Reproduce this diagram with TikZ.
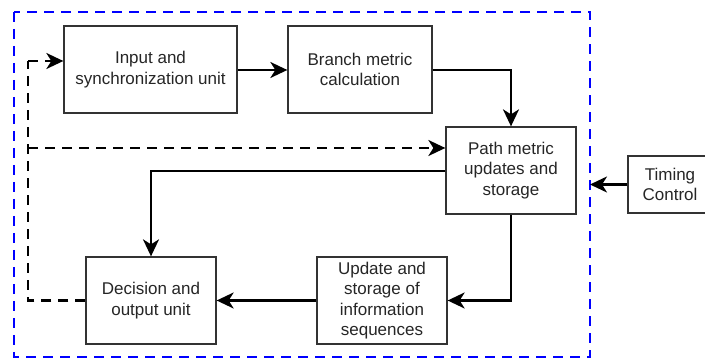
\documentclass[tikz,border=0pt]{standalone}
\usepackage{fontspec}
\setmainfont{Liberation Sans}
\usetikzlibrary{arrows.meta}
\tikzset{
  blk/.style={draw=black!80, line width=1.3pt, fill=white, align=center, inner sep=2pt,
    text=black!85, font=\fontsize{17}{20.5}\selectfont},
  conn/.style={line width=2.3pt, -{Stealth[length=17pt,width=16pt,inset=5pt]}},
  dconn/.style={conn, dash pattern=on 10pt off 7pt},
  dline/.style={line width=2.3pt, dash pattern=on 10pt off 7pt},
  frame/.style={draw=blue, line width=2pt, dash pattern=on 10pt off 7pt}
}
\begin{document}
\begin{tikzpicture}[x=1pt,y=-1pt]
\useasboundingbox (0,0) rectangle (705,358);
\draw[frame] (14,12) rectangle (590,357);
\node[blk, minimum width=173pt, minimum height=87pt] (inp) at (150.5,69.5) {Input and\\synchronization unit};
\node[blk, minimum width=144pt, minimum height=87pt] (bmc) at (360,69.5) {Branch metric\\calculation};
\node[blk, minimum width=130pt, minimum height=87pt] (pmu) at (511,170.5) {Path metric\\updates and\\storage};
\node[blk, minimum width=84pt, minimum height=57pt] (tc) at (670,184.5) {Timing\\Control};
\node[blk, minimum width=130pt, minimum height=87pt] (dec) at (151,300.5) {Decision and\\output unit};
\node[blk, minimum width=130pt, minimum height=87pt] (upd) at (382,300.5) {Update and\\storage of\\information\\sequences};
\coordinate (fr) at (590,184.5);
\coordinate (dl) at (28,300.5);
\coordinate (dt) at (28,61);
\coordinate (dm) at (28,148);
\draw[conn] (inp.east |- 0,70) -- (bmc.west |- 0,70);
\draw[conn] (bmc.east |- 0,70) -| (pmu.north);
\draw[conn] (pmu.west |- 0,171) -| (dec.north);
\draw[conn] (pmu.south) |- (upd.east);
\draw[conn] (upd.west) -- (dec.east);
\draw[conn] (tc.west) -- (fr);
\draw[dline] (dec.west) -- (dl) -- (dt);
\draw[dconn] (dt) -- (inp.west |- dt);
\draw[dconn] (dm) -- (pmu.west |- dm);
\end{tikzpicture}
\end{document}
